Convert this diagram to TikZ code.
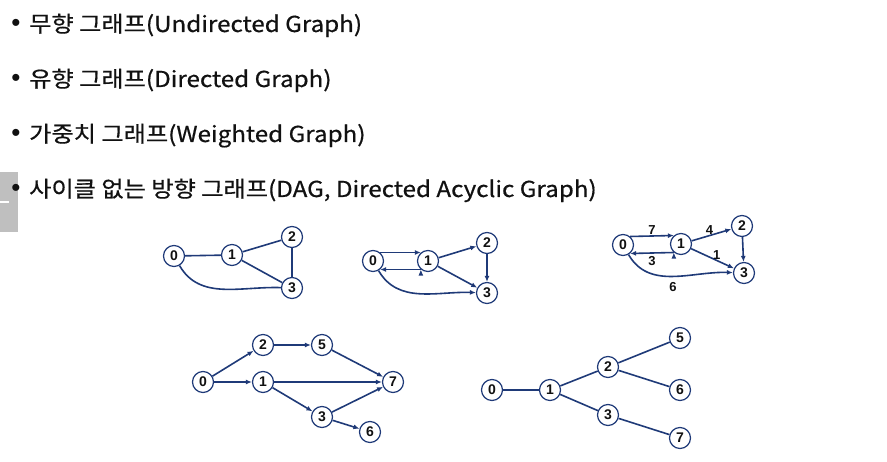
\documentclass[tikz,border=0pt]{standalone}
\usepackage{fontspec}
\setmainfont{Noto Sans CJK KR}[FakeStretch=1.1,FakeBold=0.6]
\newfontfamily\numfont{Liberation Sans}
\usetikzlibrary{positioning,arrows.meta}
\definecolor{navy}{HTML}{1F3A78}
\definecolor{ink}{HTML}{111111}
\definecolor{tabgray}{HTML}{BFBFBF}

\begin{document}
\begin{tikzpicture}[x=1pt,y=-1pt,
   vert/.style={circle,draw=navy,fill=white,line width=1.2pt,minimum size=21pt,inner sep=0pt,
      text=ink,font=\numfont\bfseries\fontsize{14}{14}\selectfont},
   link/.style={draw=navy,line width=1.6pt},
   wt/.style={text=ink,font=\numfont\bfseries\fontsize{13}{13}\selectfont,inner sep=1pt},
   item/.style={anchor=base west,inner sep=0pt,text=ink,font=\fontsize{22}{26}\selectfont},
   dot/.style={inner sep=0pt,text=ink,font=\numfont\fontsize{26}{26}\selectfont},
   >={Latex[length=6pt,width=5pt]}]
   \useasboundingbox (0,0) rectangle (887,462);
   % left tab
   \fill[tabgray] (0,172) rectangle (18,232);
   \draw[white,line width=1.5pt] (0,202) -- (9,202);

   % items
   \node[dot] (b_1) at (16,25) {•};
   \node[dot] (b_2) at (16,80) {•};
   \node[dot] (b_3) at (16,135) {•};
   \node[dot] (b_4) at (16,190) {•};
   \node[item] (l_1) at (29,32) {무향 그래프(Undirected Graph)};
   \node[item] (l_2) at (29,87) {유향 그래프(Directed Graph)};
   \node[item] (l_3) at (29,142) {가중치 그래프(Weighted Graph)};
   \node[item] (l_4) at (29,197) {사이클 없는 방향 그래프(DAG, Directed Acyclic Graph)};

   % undirected
   \node[vert] (u_0) at (174,256) {0};
   \node[vert] (u_1) at (232,255) {1};
   \node[vert] (u_2) at (292,237) {2};
   \node[vert] (u_3) at (292,288) {3};
   \path[link]
   (u_0) edge (u_1)
   (u_1) edge (u_2)
   (u_1) edge (u_3)
   (u_2) edge (u_3)
   (u_0) edge [out=-60,in=178] (u_3);

   % directed
   \node[vert] (d_0) at (373,261) {0};
   \node[vert] (d_1) at (428,261) {1};
   \node[vert] (d_2) at (487,243) {2};
   \node[vert] (d_3) at (487,293) {3};
   \path[link,->]
   (d_0.50) edge (d_1.130)
   (d_1.-130) edge (d_0.-50)
   (d_1) edge (d_2)
   (d_1) edge (d_3)
   (d_2) edge (d_3)
   (d_0) edge [out=-60,in=178] (d_3);

   % weighted
   \node[vert] (w_0) at (623,245) {0};
   \node[vert] (w_1) at (681,244) {1};
   \node[vert] (w_2) at (742,226) {2};
   \node[vert] (w_3) at (744,273) {3};
   \path[link,->]
   (w_0.50) edge node[wt,above] {7} (w_1.130)
   (w_1.-130) edge node[wt,below=2pt] {3} (w_0.-50)
   (w_1) edge node[wt,pos=0.45,above,inner sep=0pt] {4} (w_2)
   (w_1) edge node[wt,pos=0.6,above,inner sep=0pt] {1} (w_3)
   (w_2) edge (w_3)
   (w_0) edge [out=-60,in=178] node[wt,pos=0.5,below=4pt] {6} (w_3);

   % DAG
   \node[vert] (g_0) at (203,382) {0};
   \node[vert] (g_1) at (263,382) {1};
   \node[vert] (g_2) at (263,345) {2};
   \node[vert] (g_5) at (322,345) {5};
   \node[vert] (g_7) at (393,382) {7};
   \node[vert] (g_3) at (322,417) {3};
   \node[vert] (g_6) at (370,432) {6};
   \path[link,->]
   (g_0) edge (g_2)
   (g_0) edge (g_1)
   (g_2) edge (g_5)
   (g_5) edge (g_7)
   (g_1) edge (g_7)
   (g_1) edge (g_3)
   (g_3) edge (g_7)
   (g_3) edge (g_6);

   % tree
   \node[vert] (t_0) at (492,390) {0};
   \node[vert] (t_1) at (550,390) {1};
   \node[vert] (t_2) at (608,367) {2};
   \node[vert] (t_3) at (608,415) {3};
   \node[vert] (t_5) at (680,338) {5};
   \node[vert] (t_6) at (680,390) {6};
   \node[vert] (t_7) at (680,438) {7};
   \path[link]
   (t_0) edge (t_1)
   (t_1) edge (t_2)
   (t_1) edge (t_3)
   (t_2) edge (t_5)
   (t_2) edge (t_6)
   (t_3) edge (t_7);
\end{tikzpicture}
\end{document}
